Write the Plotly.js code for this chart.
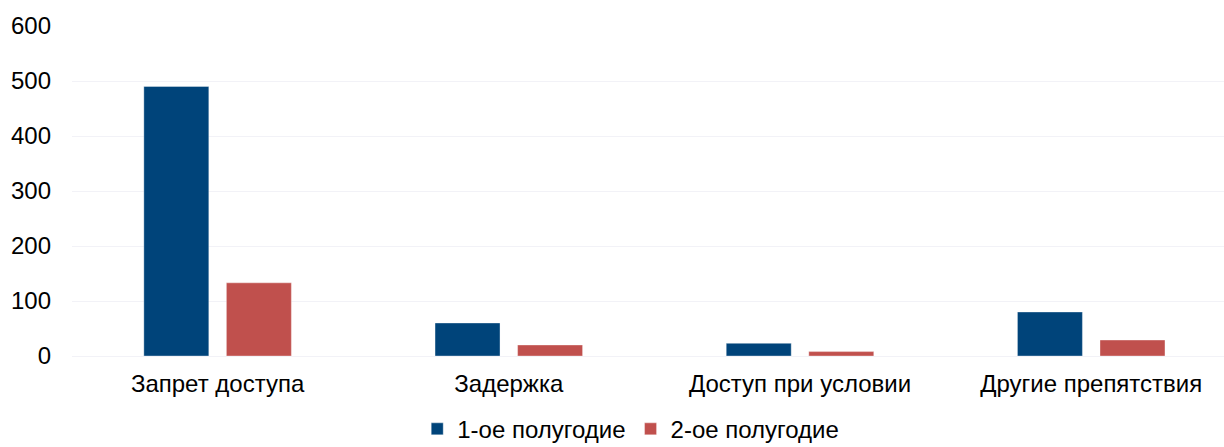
<!DOCTYPE html>
<html>
<head>
<meta charset="utf-8">
<script src="https://cdn.plot.ly/plotly-3.0.1.min.js"></script>
<style>html,body{margin:0;padding:0;background:#fff;}#chart{width:1224px;height:447px;}</style>
</head>
<body>
<div id="chart"></div>
<script>
const categories = ["Запрет доступа", "Задержка", "Доступ при условии", "Другие препятствия"];
const seriesNames = ["1-ое полугодие", "2-ое полугодие"];
const firstHalf = [490, 60, 23, 80];
const secondHalf = [133, 20, 8, 29];
const yTicks = [0, 100, 200, 300, 400, 500, 600];

const colors = ["#00447A", "#C0504D"];
const traces = [firstHalf, secondHalf].map((vals, i) => ({
  type: "bar",
  name: seriesNames[i],
  x: categories,
  y: vals,
  marker: {color: colors[i], line: {color: "rgba(255,255,255,0.35)", width: 1}},
  hoverinfo: "x+y"
}));

const layout = {
  width: 1224,
  height: 447,
  margin: {l: 72, r: 0, t: 26, b: 91, autoexpand: false},
  paper_bgcolor: "#ffffff",
  plot_bgcolor: "#ffffff",
  font: {family: "Liberation Sans, Arial, sans-serif", color: "#000000", size: 24},
  barmode: "group",
  bargap: 0.433,
  bargroupgap: 0.213,
  xaxis: {
    type: "category",
    range: [-0.5, 3.456],
    showgrid: false,
    showline: false,
    zeroline: false,
    ticks: "",
    ticklabelstandoff: 11,
    tickfont: {size: 24, color: "#000"},
    automargin: false
  },
  yaxis: {
    range: [0, 600],
    tickvals: yTicks,
    showgrid: true,
    gridcolor: "#F2F2F7",
    gridwidth: 1,
    zeroline: true,
    zerolinecolor: "#F2F2F7",
    zerolinewidth: 1,
    showline: false,
    ticks: "",
    ticklabelstandoff: 20,
    tickfont: {size: 24, color: "#000"},
    automargin: false
  },
  showlegend: true,
  legend: {
    orientation: "h",
    x: 0.485,
    xanchor: "center",
    y: -0.222,
    yanchor: "middle",
    font: {size: 24, color: "#000"},
    itemwidth: 30,
    tracegroupgap: 0
  }
};

Plotly.newPlot("chart", traces, layout, {displayModeBar: false, staticPlot: true});
</script>
</body>
</html>
